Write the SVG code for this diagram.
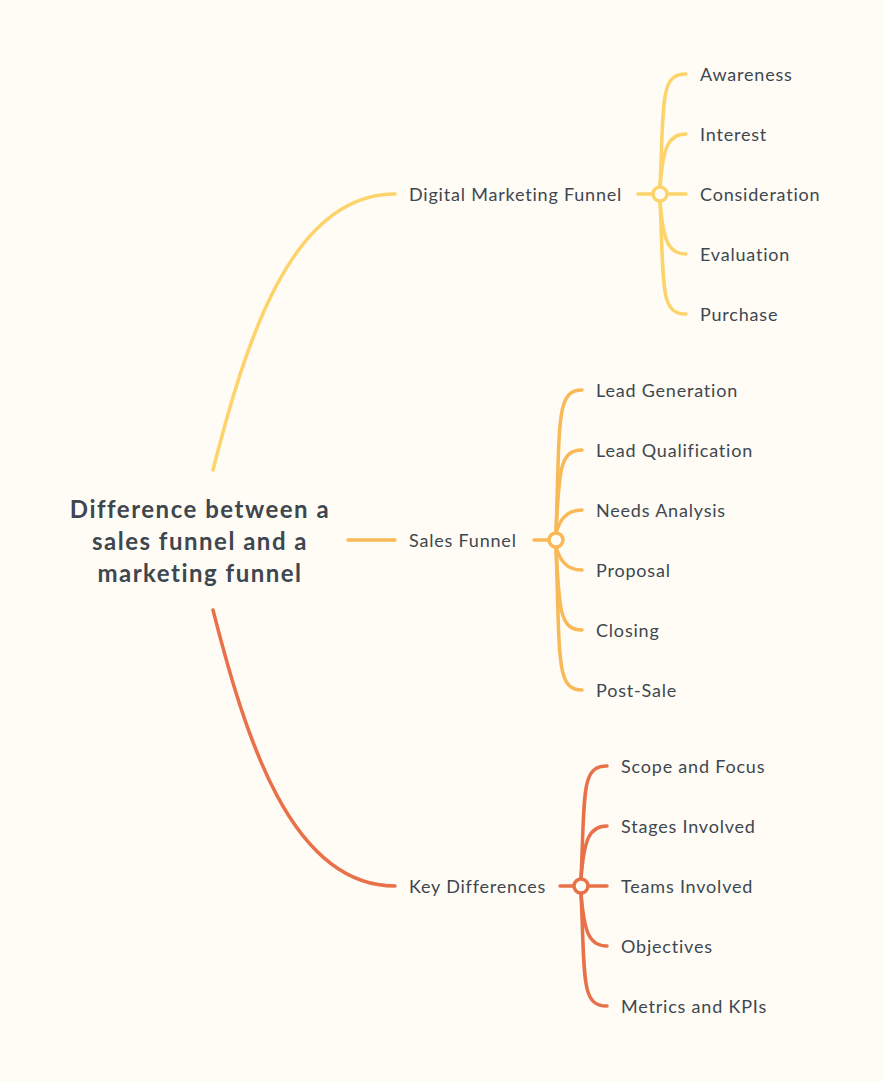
<svg xmlns="http://www.w3.org/2000/svg" width="884" height="1082" viewBox="0 0 884 1082">
<style>
.bg{fill:#FFFCF5}
.c{fill:none;stroke-width:3.5;stroke-linecap:round}
.y{stroke:#FDD46B}
.o{stroke:#F9B956}
.r{stroke:#E8714A}
.hub{fill:#FFFCF5;stroke-width:3.5}
.t{font-family:Lato,"Open Sans",sans-serif;font-size:18px;letter-spacing:0.8px;fill:#3E4750;dominant-baseline:central}
.root{font-family:Lato,"Open Sans",sans-serif;font-size:24px;letter-spacing:1.5px;font-weight:bold;fill:#3E4750;text-anchor:middle;dominant-baseline:central}
</style>
<rect class="bg" x="0" y="0" width="884" height="1082"/>
<g id="connectors">
<path class="c y" d="M213,470 C245,345 290,194 395,194"/>
<path class="c o" d="M348,540 L395,540"/>
<path class="c r" d="M213,610 C245,735 290,886 395,886"/>
<path class="c y" d="M638,194 L652,194"/>
<path class="c y" d="M668,194 L686,194"/>
<path class="c y" d="M660,187 C664,100 660,74 686,74"/>
<path class="c y" d="M660,187 C663,148 668,134 686,134"/>
<path class="c y" d="M660,201 C663,240 668,254 686,254"/>
<path class="c y" d="M660,201 C664,288 660,314 686,314"/>
<path class="c o" d="M534,540 L548,540"/>
<path class="c o" d="M556,533 C560,420 556,390 582,390"/>
<path class="c o" d="M556,533 C559,470 560,450 582,450"/>
<path class="c o" d="M556,533 C560,520 566,510 582,510"/>
<path class="c o" d="M556,547 C560,560 566,570 582,570"/>
<path class="c o" d="M556,547 C559,610 560,630 582,630"/>
<path class="c o" d="M556,547 C560,660 556,690 582,690"/>
<path class="c r" d="M560,886 L573,886"/>
<path class="c r" d="M589,886 L607,886"/>
<path class="c r" d="M581,879 C585,792 581,766 607,766"/>
<path class="c r" d="M581,879 C584,840 589,826 607,826"/>
<path class="c r" d="M581,893 C584,932 589,946 607,946"/>
<path class="c r" d="M581,893 C585,980 581,1006 607,1006"/>
</g>
<g id="root"><text class="root" x="200" y="508">Difference between a</text><text class="root" x="200" y="540">sales funnel and a</text><text class="root" x="200" y="572">marketing funnel</text></g>
<g id="n-dmf"><text class="t" x="409" y="194">Digital Marketing Funnel</text><circle class="hub y" cx="660" cy="194" r="7"/></g>
<g id="n-awareness"><text class="t" x="700" y="74">Awareness</text></g>
<g id="n-interest"><text class="t" x="700" y="134">Interest</text></g>
<g id="n-consideration"><text class="t" x="700" y="194">Consideration</text></g>
<g id="n-evaluation"><text class="t" x="700" y="254">Evaluation</text></g>
<g id="n-purchase"><text class="t" x="700" y="314">Purchase</text></g>
<g id="n-sf"><text class="t" x="409" y="540">Sales Funnel</text><circle class="hub o" cx="556" cy="540" r="7"/></g>
<g id="n-leadgen"><text class="t" x="596" y="390">Lead Generation</text></g>
<g id="n-leadqual"><text class="t" x="596" y="450">Lead Qualification</text></g>
<g id="n-needs"><text class="t" x="596" y="510">Needs Analysis</text></g>
<g id="n-proposal"><text class="t" x="596" y="570">Proposal</text></g>
<g id="n-closing"><text class="t" x="596" y="630">Closing</text></g>
<g id="n-postsale"><text class="t" x="596" y="690">Post-Sale</text></g>
<g id="n-kd"><text class="t" x="409" y="886">Key Differences</text><circle class="hub r" cx="581" cy="886" r="7"/></g>
<g id="n-scope"><text class="t" x="621" y="766">Scope and Focus</text></g>
<g id="n-stages"><text class="t" x="621" y="826">Stages Involved</text></g>
<g id="n-teams"><text class="t" x="621" y="886">Teams Involved</text></g>
<g id="n-objectives"><text class="t" x="621" y="946">Objectives</text></g>
<g id="n-metrics"><text class="t" x="621" y="1006">Metrics and KPIs</text></g>
</svg>
